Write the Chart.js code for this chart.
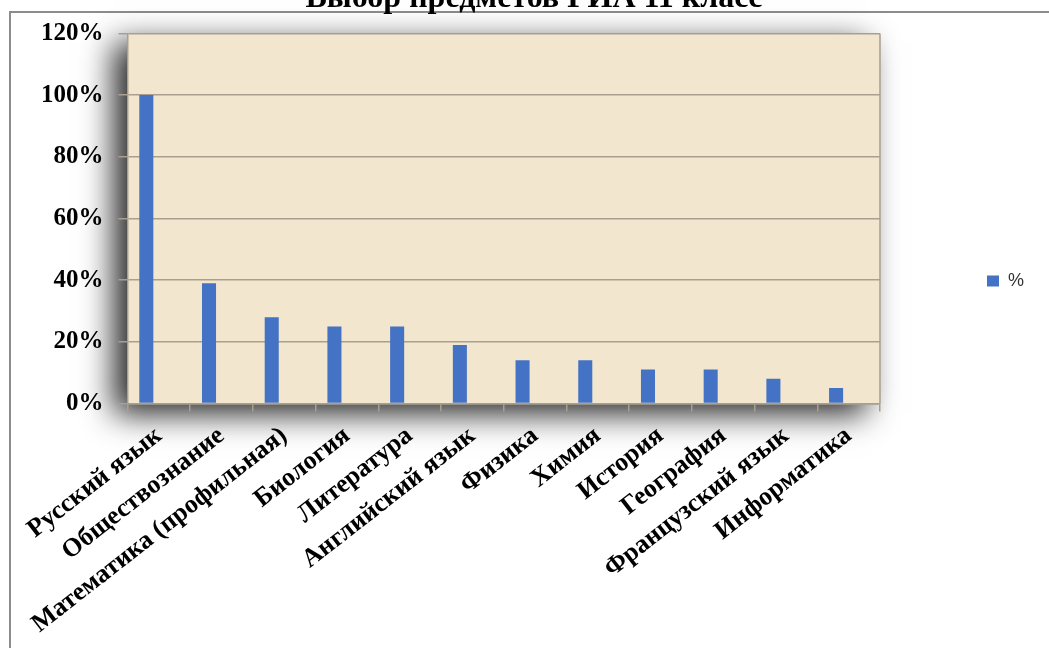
<!DOCTYPE html>
<html>
<head>
<meta charset="utf-8">
<script src="https://cdn.jsdelivr.net/npm/chart.js@4.4.1/dist/chart.umd.min.js"></script>
<style>
  html, body { margin: 0; padding: 0; background: #fff; overflow: hidden; }
  #frame { position: absolute; left: 9px; top: 11px; width: 1100px; height: 700px;
           border-left: 2px solid #8c8c8c; border-top: 2px solid #8c8c8c; }
  #wrap { position: absolute; left: 0; top: -20px; width: 1049px; height: 668px; }
</style>
</head>
<body>
<div id="frame"></div>
<div id="wrap"><canvas id="grapharea"></canvas></div>
<script>
// subjects chosen for GIA, grade 11
const subjects = ['Русский язык', 'Обществознание', 'Математика (профильная)', 'Биология',
  'Литература', 'Английский язык', 'Физика', 'Химия', 'История', 'География',
  'Французский язык', 'Информатика'];
const percentValues = [100, 39, 28, 25, 25, 19, 14, 14, 11, 11, 8, 5];
const emptySeries = [null, null, null, null, null, null, null, null, null, null, null, null];
const yTicks = [0, 20, 40, 60, 80, 100, 120];

const serif = "'Liberation Serif', 'Times New Roman', serif";

// beige plot area with the dark shadow on the left
const plotBackground = {
  id: 'plotBackground',
  beforeDraw(chart) {
    const {ctx, chartArea: a} = chart;
    ctx.save();
    ctx.shadowColor = 'rgba(0,0,0,0.85)';
    ctx.shadowBlur = 30;
    ctx.shadowOffsetX = -14;
    ctx.shadowOffsetY = 10;
    ctx.fillStyle = '#f2e6cf';
    ctx.fillRect(a.left, a.top, a.right - a.left, a.bottom - a.top);
    ctx.restore();
    ctx.save();
    ctx.fillStyle = '#f2e6cf';
    ctx.fillRect(a.left, a.top, a.right - a.left, a.bottom - a.top);
    ctx.strokeStyle = '#a89f90';
    ctx.lineWidth = 1.5;
    ctx.beginPath();
    ctx.moveTo(a.right, a.top);
    ctx.lineTo(a.right, a.bottom);
    ctx.stroke();
    ctx.restore();
  }
};

let CurrencyChart = new Chart(document.getElementById('grapharea'), {
  type: 'bar',
  data: {
    labels: subjects,
    datasets: [{
      label: '%',
      data: percentValues,
      backgroundColor: '#4472c4',
      borderWidth: 0,
      categoryPercentage: 0.8,
      barPercentage: 0.56
    }, {
      label: '',
      data: emptySeries,
      backgroundColor: '#c0504d',
      categoryPercentage: 0.8,
      barPercentage: 0.56
    }]
  },
  options: {
    responsive: true,
    maintainAspectRatio: false,
    animation: false,
    layout: { padding: { left: 34, right: 15, top: 0, bottom: 0 } },
    plugins: {
      title: {
        display: true,
        text: 'Выбор предметов ГИА 11 класс',
        color: '#000',
        font: { family: serif, size: 32, weight: 'bold' },
        padding: { top: 0, bottom: 15 }
      },
      legend: {
        position: 'right',
        align: 'start',
        title: { display: true, text: ' ', font: { size: 10 }, padding: { top: 270, bottom: 0 } },
        labels: {
          filter: item => item.text !== '',
          boxWidth: 12,
          boxHeight: 11,
          padding: 10,
          color: '#333',
          font: { family: "'Liberation Sans', Arial, sans-serif", size: 18 }
        }
      },
      tooltip: { enabled: false }
    },
    scales: {
      x: {
        offset: true,
        grid: { display: true, drawOnChartArea: false, tickLength: 8, color: '#a89f90', lineWidth: 1.5 },
        border: { color: '#a89f90', width: 1.5 },
        ticks: {
          color: '#000',
          minRotation: 38,
          maxRotation: 38,
          autoSkip: false,
          padding: 9,
          font: { family: serif, size: 26, weight: 'bold' }
        },
        afterFit: scale => { scale.height = 244.5; }
      },
      y: {
        min: 0,
        max: 120,
        afterBuildTicks: scale => { scale.ticks = yTicks.map(v => ({ value: v })); },
        grid: { color: '#a89f90', lineWidth: 1.5, tickLength: 9 },
        border: { color: '#a89f90', width: 1.5 },
        ticks: {
          color: '#000',
          padding: 15,
          font: { family: serif, size: 25, weight: 'bold' },
          callback: v => v + '%'
        },
        afterFit: scale => { scale.width = 93.5; }
      },
      yRight: {
        position: 'right',
        display: true,
        grid: { display: false },
        border: { display: false },
        ticks: { display: false },
        afterFit: scale => { scale.width = 97; }
      }
    }
  },
  plugins: [plotBackground]
});
</script>
</body>
</html>
